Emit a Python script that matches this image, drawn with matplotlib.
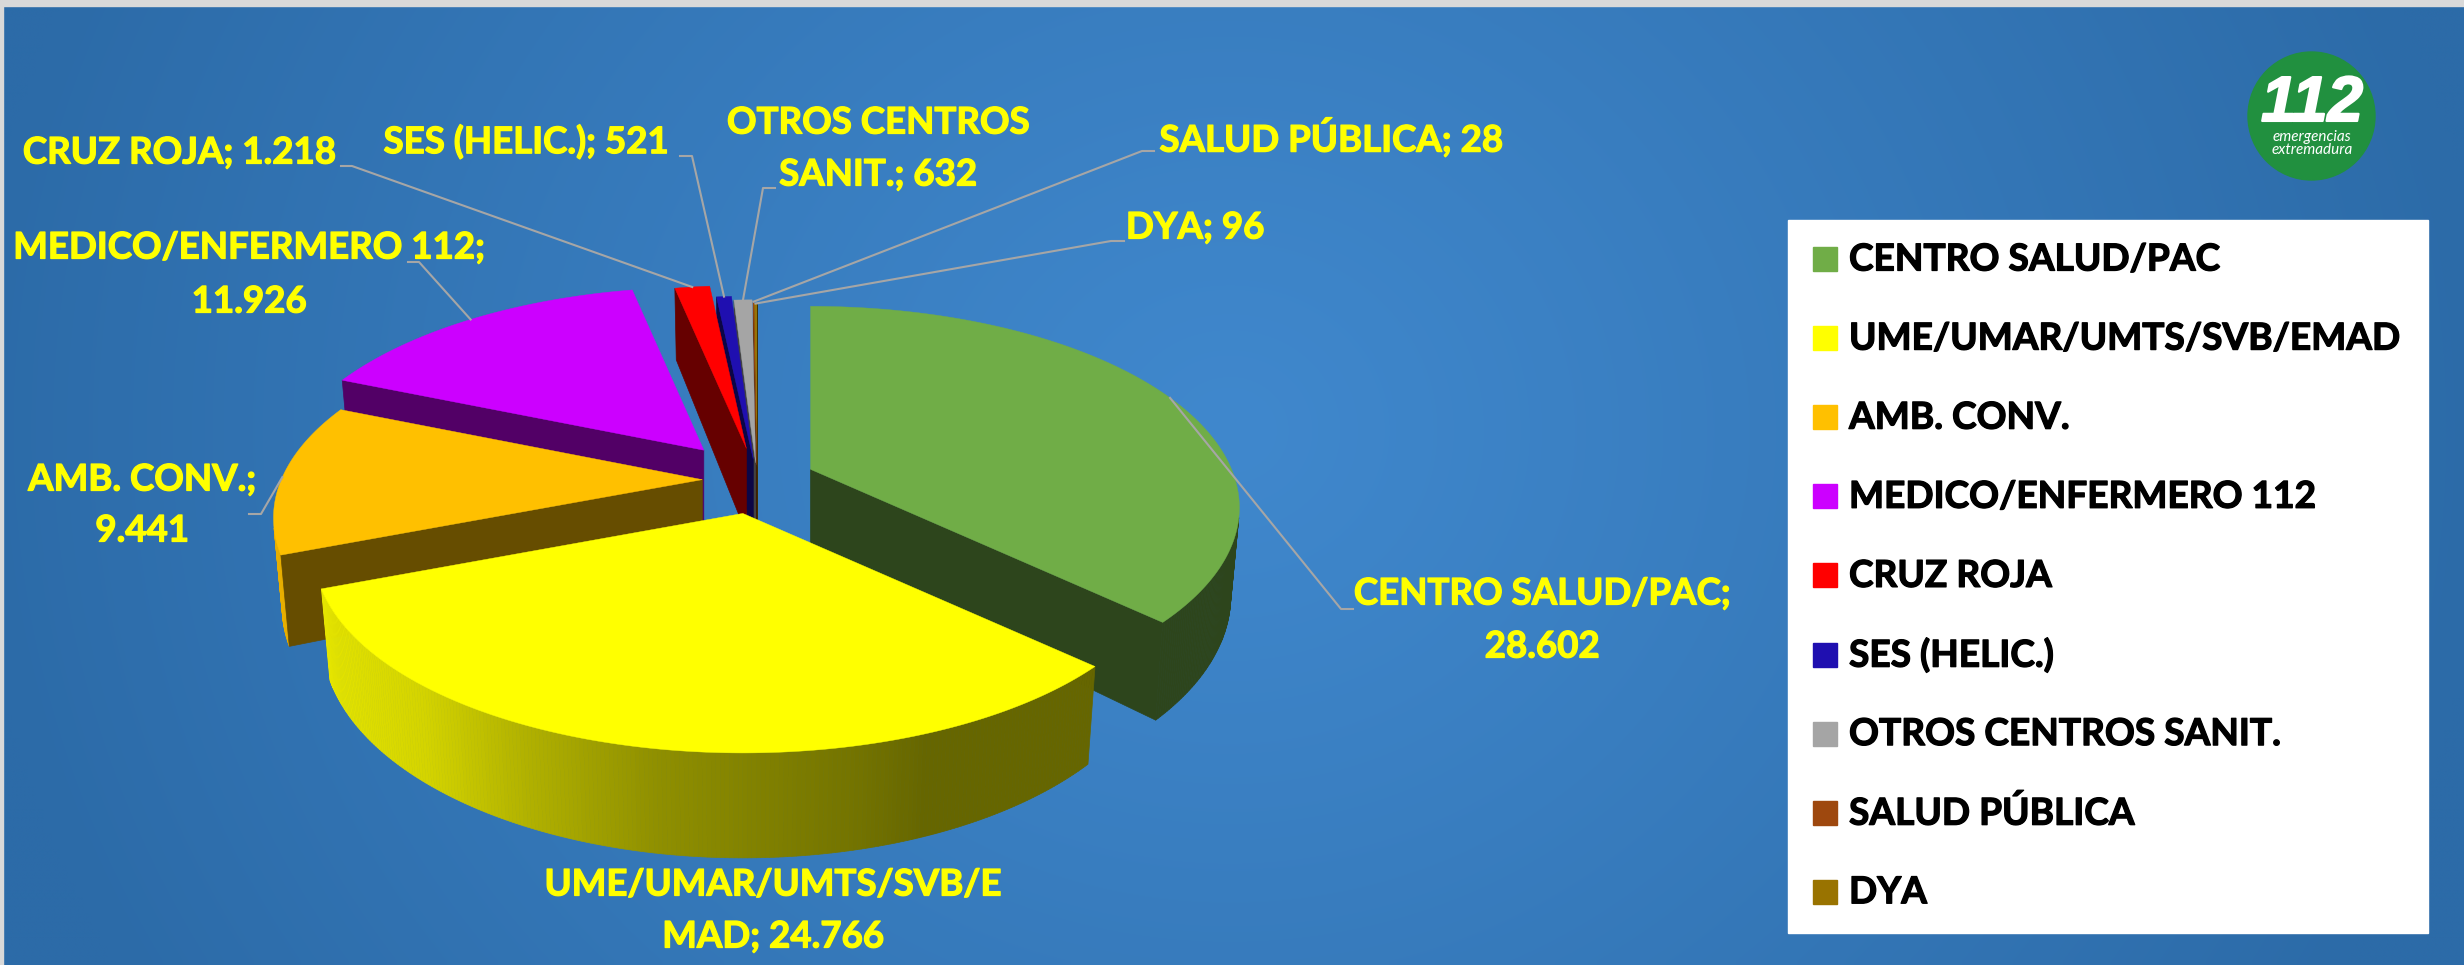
"""Tarta 3D despiezada de activaciones 112 Extremadura, dibujada con polygons."""

import matplotlib

matplotlib.use("Agg")

import matplotlib.patheffects as pe
import matplotlib.pyplot as plt
import numpy as np
from matplotlib.patches import Ellipse, Rectangle

CATEGORIES = [
    "CENTRO SALUD/PAC",
    "UME/UMAR/UMTS/SVB/EMAD",
    "AMB. CONV.",
    "MEDICO/ENFERMERO 112",
    "CRUZ ROJA",
    "SES (HELIC.)",
    "OTROS CENTROS SANIT.",
    "SALUD PÚBLICA",
    "DYA",
]
VALUES = [28602, 24766, 9441, 11926, 1218, 521, 632, 28, 96]
COLORS = ["#70AD47", "#FFFF00", "#FFC000", "#CC00FF", "#FF0000", "#1F0FB0", "#A5A5A5", "#9E480E", "#997300"]
EXPLODE = [0.14, 0.17, 0.13, 0.205, 0.17, 0.11, 0.09, 0.08, 0.07]
DRAW_ORDER = [8, 7, 6, 5, 4, 3, 0, 2, 1]

LABEL_LINES = [
    ["CENTRO SALUD/PAC;", "28.602"],
    ["UME/UMAR/UMTS/SVB/E", "MAD; 24.766"],
    ["AMB. CONV.;", "9.441"],
    ["MEDICO/ENFERMERO 112;", "11.926"],
    ["CRUZ ROJA; 1.218"],
    ["SES (HELIC.); 521"],
    ["OTROS CENTROS", "SANIT.; 632"],
    ["SALUD PÚBLICA; 28"],
    ["DYA; 96"],
]
LABEL_X = [1542, 773, 142, 249, 179, 526, 878, 1331, 1195]
LABEL_Y = [[594, 647], [885, 937], [480, 531], [248, 302], [153], [142], [123, 175], [138], [228]]
# tramo horizontal de cada linea guia: (x inicio, x codo, y)
LEADERS = {
    0: (1353, 1341, 609),
    2: (249, 261, 514),
    3: (408, 419, 262),
    4: (341, 352, 166),
    5: (680, 692, 156),
    6: (775, 763, 188),
    7: (1154, 1142, 151),
    8: (1124, 1111, 241),
}

CENTER_X, CENTER_Y = 757, 480
SCALE_X, SCALE_Y = 421, 194
PERSPECTIVE = 0.19
THICKNESS = 85
BOTTOM_SCALE = 0.98
SIDE_SHADE = 0.4
SHADE_SIN = [-1.0, -0.93, -0.65, -0.42, -0.16, 0.23, 0.36, 1.0]
SHADE_VAL = [0.92, 0.90, 0.83, 0.69, 0.56, 0.45, 0.40, 0.40]


def project(x, y, bottom=False):
    denom = 1 + PERSPECTIVE * y
    px = SCALE_X * x / denom
    py = -SCALE_Y * y / denom
    if bottom:
        return px * BOTTOM_SCALE, py + THICKNESS / denom
    return px, py


def signed_area(quad):
    xs, ys = np.array(quad).T
    return np.sum(xs * np.roll(ys, -1) - np.roll(xs, -1) * ys)


def shade(color, factor):
    return tuple(channel * factor for channel in matplotlib.colors.to_rgb(color))


def draw_slice(ax, start, end, explode, color):
    mid = np.radians((start + end) / 2)
    apex_x, apex_y = project(explode * np.sin(mid), explode * np.cos(mid))
    apex_x += CENTER_X
    apex_y += CENTER_Y

    def place(points):
        return [(apex_x + a, apex_y + b) for a, b in points]

    theta = np.radians(np.linspace(start, end, max(int(end - start) * 2, 2) + 1))
    rim_x, rim_y = np.sin(theta), np.cos(theta)
    side = shade(color, SIDE_SHADE)

    for i in range(len(theta) - 1):
        face = place([
            project(rim_x[i], rim_y[i]),
            project(rim_x[i + 1], rim_y[i + 1]),
            project(rim_x[i + 1], rim_y[i + 1], True),
            project(rim_x[i], rim_y[i], True),
        ])
        if signed_area(face) < 0:
            factor = np.interp(np.sin((theta[i] + theta[i + 1]) / 2), SHADE_SIN, SHADE_VAL)
            ax.fill(*zip(*face), color=shade(color, factor), lw=0.5, zorder=2)

    # las caras de corte solo se ven segun su orientacion
    for k, sign in ((0, -1), (-1, 1)):
        quad = place([
            project(0, 0),
            project(rim_x[k], rim_y[k]),
            project(rim_x[k], rim_y[k], True),
            project(0, 0, True),
        ])
        if signed_area(quad) * sign > 0:
            ax.fill(*zip(*quad), color=side, lw=0.5, zorder=2)

    top = place([project(0, 0)] + [project(a, b) for a, b in zip(rim_x, rim_y)])
    ax.fill(*zip(*top), color=color, lw=0.3, zorder=2)
    return apex_x, apex_y


def main():
    fig = plt.figure(figsize=(24.64, 9.65), dpi=100)
    ax = fig.add_axes([0, 0, 1, 1])

    # fondo con degradado
    gx, gy = np.meshgrid(np.linspace(0, 2464, 308), np.linspace(0, 965, 121))
    dist = np.clip(np.hypot((gx - 1230) / 1260, (gy - 430) / 1150), 0, 1)
    low, high = np.array([0x2C, 0x6B, 0xA8]) / 255, np.array([0x40, 0x88, 0xCD]) / 255
    image = high + (low - high) * dist[..., None] ** 1.1
    ax.imshow(image, extent=(0, 2464, 965, 0), aspect="auto", zorder=0, interpolation="bilinear")
    ax.add_patch(Rectangle((0, 0), 2464, 6, color="#D9D9D9", zorder=1))
    ax.add_patch(Rectangle((0, 0), 3, 965, color="#D9D9D9", zorder=1))
    ax.set_xlim(0, 2464)
    ax.set_ylim(965, 0)
    ax.axis("off")

    angles = np.cumsum([0] + VALUES) / sum(VALUES) * 360
    apexes = {}
    for i in DRAW_ORDER:
        apexes[i] = draw_slice(ax, angles[i], angles[i + 1], EXPLODE[i], COLORS[i])

    # lineas guia hasta el punto medio del borde de cada porcion
    for i, (x0, x1, y) in LEADERS.items():
        mid = np.radians((angles[i] + angles[i + 1]) / 2)
        ex, ey = project(np.sin(mid), np.cos(mid))
        ax.plot([x0, x1, apexes[i][0] + ex], [y, y, apexes[i][1] + ey], color="#A6A6A6", lw=1.5, zorder=5)

    heavy = [pe.withStroke(linewidth=0.9, foreground="#FFFF00")]
    label_font = dict(family="Lato", weight="bold", fontsize=26.4, color="#FFFF00", ha="center", va="center")
    for lines, x, ys in zip(LABEL_LINES, LABEL_X, LABEL_Y):
        for line, y in zip(lines, ys):
            ax.text(x, y, line, zorder=6, path_effects=heavy, **label_font)

    # leyenda
    ax.add_patch(Rectangle((1788, 220), 640, 713, color="white", zorder=3))
    heavy_black = [pe.withStroke(linewidth=0.9, foreground="black")]
    for i, (name, color) in enumerate(zip(CATEGORIES, COLORS)):
        y = 259 + i * 79.1
        ax.add_patch(Rectangle((1813, y - 12), 24, 24, color=color, zorder=4))
        ax.text(1849, y + 1, name, family="Lato", weight="bold", fontsize=26.7, color="black", va="center",
                zorder=4, path_effects=heavy_black)

    # logo
    ax.add_patch(Ellipse((2311.5, 116), 127, 128, color="#21903F", zorder=3))
    logo_family = ["Liberation Sans Narrow", "Liberation Sans"]
    ax.text(2312, 104, "112", family=logo_family, weight="bold", style="italic", fontsize=46,
            color="white", ha="center", va="center", zorder=4,
            path_effects=[pe.withStroke(linewidth=1.5, foreground="white")])
    ax.text(2312, 137, "emergencias", family="Lato", style="italic", fontsize=11,
            color="white", ha="center", va="center", zorder=4)
    ax.text(2312, 150, "extremadura", family="Lato", style="italic", fontsize=11,
            color="white", ha="center", va="center", zorder=4)

    fig.savefig("out.png", dpi=100)
    plt.close(fig)


if __name__ == "__main__":
    main()
